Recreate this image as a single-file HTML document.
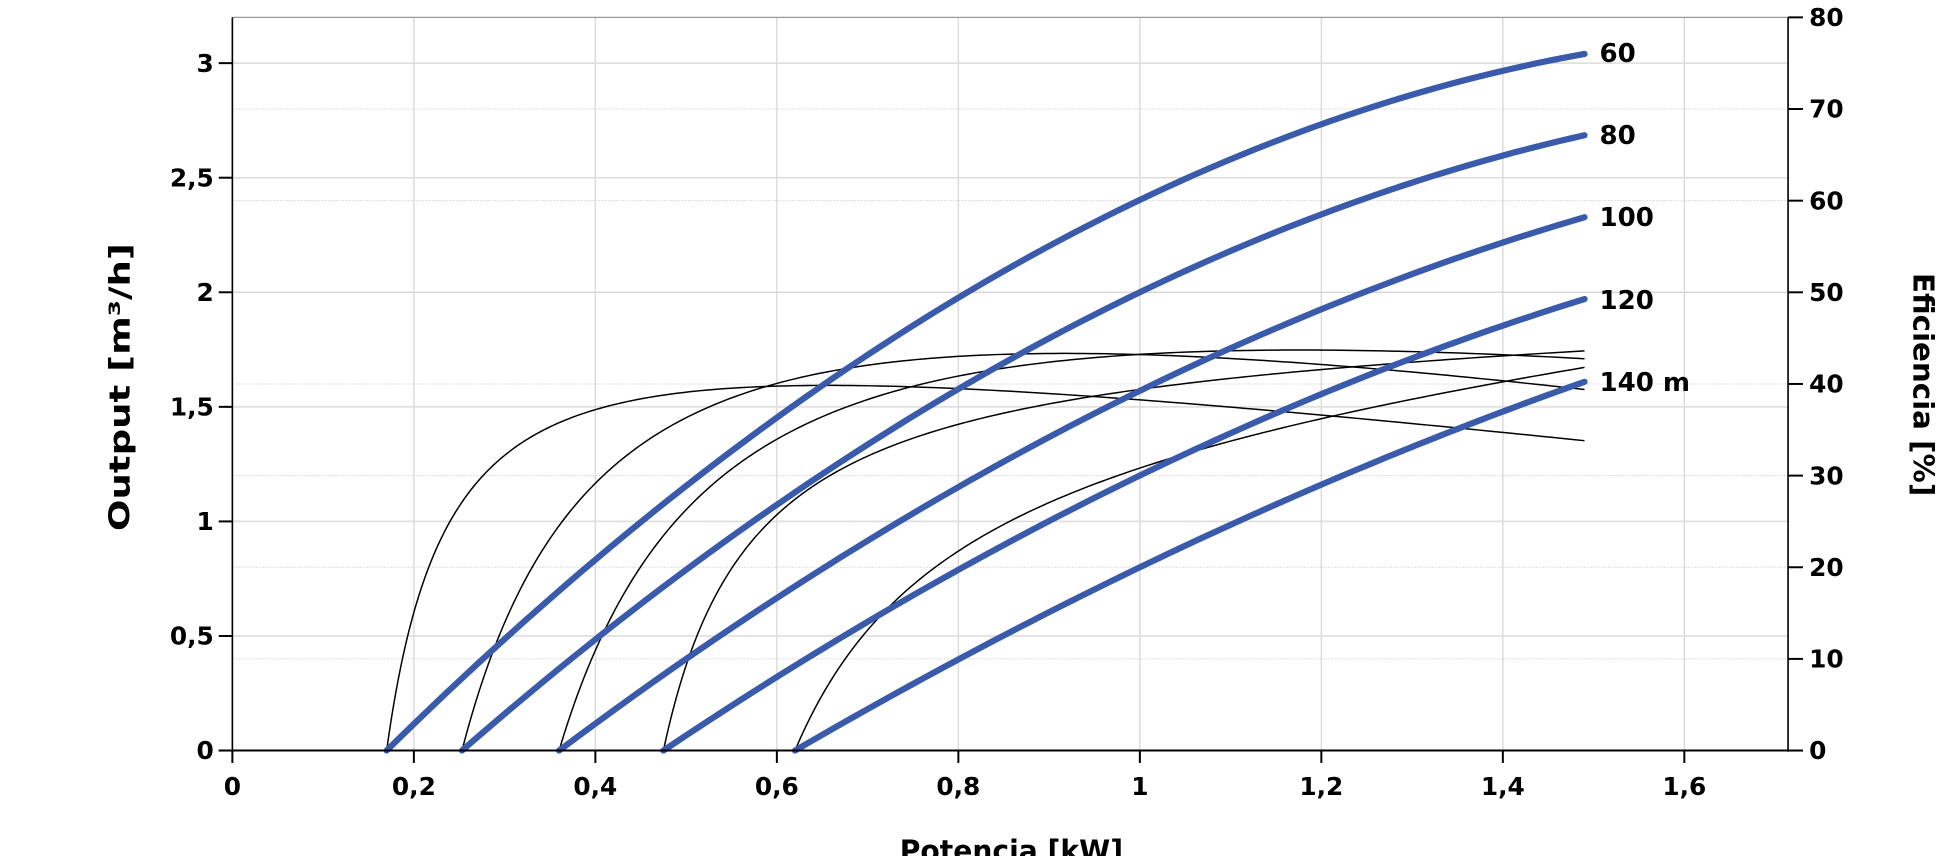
<!DOCTYPE html>
<html><head><meta charset="utf-8"><style>
html,body{margin:0;padding:0;background:#fff;}
svg{display:block;}
text{font-family:"DejaVu Sans","Liberation Sans",sans-serif;fill:#000;}
</style></head><body>
<svg id="c" width="1946" height="856" viewBox="0 0 1568 690" xmlns="http://www.w3.org/2000/svg">
<g id="grid"></g>
<g id="curves"></g>
<g id="axes"></g>
<text x="0" y="0" transform="translate(104,312) rotate(-90)" text-anchor="middle" font-size="23" font-weight="bold" textLength="232" lengthAdjust="spacingAndGlyphs">Output [m³/h]</text>
<text x="0" y="0" transform="translate(1542,310) rotate(90)" text-anchor="middle" font-size="23" font-weight="bold" textLength="180" lengthAdjust="spacingAndGlyphs">Eficiencia [%]</text>
<text x="815" y="694" text-anchor="middle" font-size="24" font-weight="bold" textLength="180" lengthAdjust="spacingAndGlyphs">Potencia [kW]</text>
<g font-size="21" font-weight="bold">
<text x="1289" y="50">60</text>
<text x="1289" y="116">80</text>
<text x="1289" y="182">100</text>
<text x="1289" y="249">120</text>
<text x="1289" y="315">140 m</text>
</g>
</svg>
<script>
var NS="http://www.w3.org/2000/svg";
function X(p){return 187+p*731.5;}
function YQ(q){return 605-q*184.7;}
function YE(e){return 605-e*7.3875;}
function el(par,tag,attrs,txt){var e=document.createElementNS(NS,tag);for(var k in attrs)e.setAttribute(k,attrs[k]);if(txt!==undefined)e.textContent=txt;document.getElementById(par).appendChild(e);return e;}
for(var i=1;i<=8;i++){var x=X(i*0.2);el("grid","line",{x1:x,y1:14,x2:x,y2:605,stroke:"#dcdcdc","stroke-width":1.2});}
for(var i=1;i<=6;i++){var y=YQ(i*0.5);el("grid","line",{x1:187,y1:y,x2:1441,y2:y,stroke:"#dcdcdc","stroke-width":1.2});}
for(var i=1;i<=7;i++){var y=YE(i*10);el("grid","line",{x1:187,y1:y,x2:1441,y2:y,stroke:"#d4d4d4","stroke-width":0.8,"stroke-dasharray":"1.2,1.2"});}
el("grid","line",{x1:187,y1:14,x2:1441,y2:14,stroke:"#999","stroke-width":1});
el("axes","line",{x1:187,y1:14,x2:187,y2:606,stroke:"#000","stroke-width":1.3});
el("axes","line",{x1:1441,y1:14,x2:1441,y2:606,stroke:"#000","stroke-width":1.3});
el("axes","line",{x1:176,y1:605,x2:1453,y2:605,stroke:"#000","stroke-width":1.6});
var ql=["0","0,5","1","1,5","2","2,5","3"];
for(var i=0;i<=6;i++){var y=YQ(i*0.5);el("axes","line",{x1:176,y1:y,x2:187,y2:y,stroke:"#000","stroke-width":1.6});el("axes","text",{x:172,y:y+7,"text-anchor":"end","font-size":20,"font-weight":"bold"},ql[i]);}
for(var i=0;i<=8;i++){var y=YE(i*10);el("axes","line",{x1:1441,y1:y,x2:1453,y2:y,stroke:"#000","stroke-width":1.6});el("axes","text",{x:1458,y:y+7,"font-size":20,"font-weight":"bold"},String(i*10));}
var xl=["0","0,2","0,4","0,6","0,8","1","1,2","1,4","1,6"];
for(var i=0;i<=8;i++){var x=X(i*0.2);el("axes","line",{x1:x,y1:605,x2:x,y2:615,stroke:"#000","stroke-width":1.6});el("axes","text",{x:x,y:641,"text-anchor":"middle","font-size":20,"font-weight":"bold"},xl[i]);}
// efficiency: eff = a*d/(b+d) - c*d  fitted by least squares
var eff=[
[0.17,[[0.066,25],[0.18,34],[0.43,40],[0.56,40.1],[0.83,38.6],[1.03,36.9],[1.23,34.8],[1.32,33.2]]],
[0.253,[[0.096,23],[0.147,29.2],[0.347,39.9],[0.547,43.1],[0.69,43.3],[0.947,42.2],[1.147,40.5],[1.237,39.2]]],
[0.36,[[0.059,15.7],[0.129,24.3],[0.24,34.1],[0.44,40.8],[0.64,43.2],[0.81,44],[1.04,43.3],[1.13,42.5]]],
[0.475,[[0.045,15],[0.125,25.5],[0.225,31.5],[0.325,35.5],[0.525,39.8],[0.725,42.2],[0.925,43.1],[1.015,43.1]]],
[0.62,[[0.045,9.3],[0.108,16.4],[0.18,20.6],[0.38,30.7],[0.58,37.1],[0.78,40.6],[0.87,41.1]]]
];
eff.forEach(function(c){
 var p0=c[0],pts=c[1],best=null;
 for(var b=0.01;b<1.5;b+=0.002){
  var s11=0,s12=0,s22=0,t1=0,t2=0;
  pts.forEach(function(q){var f1=q[0]/(b+q[0]),f2=-q[0];s11+=f1*f1;s12+=f1*f2;s22+=f2*f2;t1+=f1*q[1];t2+=f2*q[1];});
  var det=s11*s22-s12*s12;var a=(t1*s22-t2*s12)/det,cc=(s11*t2-s12*t1)/det;
  var err=0;pts.forEach(function(q){var e=a*q[0]/(b+q[0])-cc*q[0]-q[1];err+=e*e;});
  if(!best||err<best[0])best=[err,a,b,cc];
 }
 var d="";for(var i=0;i<=200;i++){var dd=(1.49-p0)*Math.pow(i/200,1.8);var e=best[1]*dd/(best[2]+dd)-best[3]*dd;d+=(i?" L":"M")+X(p0+dd).toFixed(2)+","+YE(e).toFixed(2);}
 el("curves","path",{d:d,fill:"none",stroke:"#000","stroke-width":1.2});
});
var hq=[[0.17,3.899,1.209],[0.253,3.450,1.034],[0.36,2.967,0.803],[0.475,2.656,0.704],[0.62,2.303,0.521]];
hq.forEach(function(c){var d="";for(var i=0;i<=80;i++){var p=c[0]+(1.49-c[0])*i/80;var dd=p-c[0];var q=c[1]*dd-c[2]*dd*dd;d+=(i?" L":"M")+X(p).toFixed(2)+","+YQ(q).toFixed(2);}el("curves","path",{d:d,fill:"none",stroke:"#3a5aab","stroke-width":5,"stroke-linecap":"round"});});
</script>
</body></html>
